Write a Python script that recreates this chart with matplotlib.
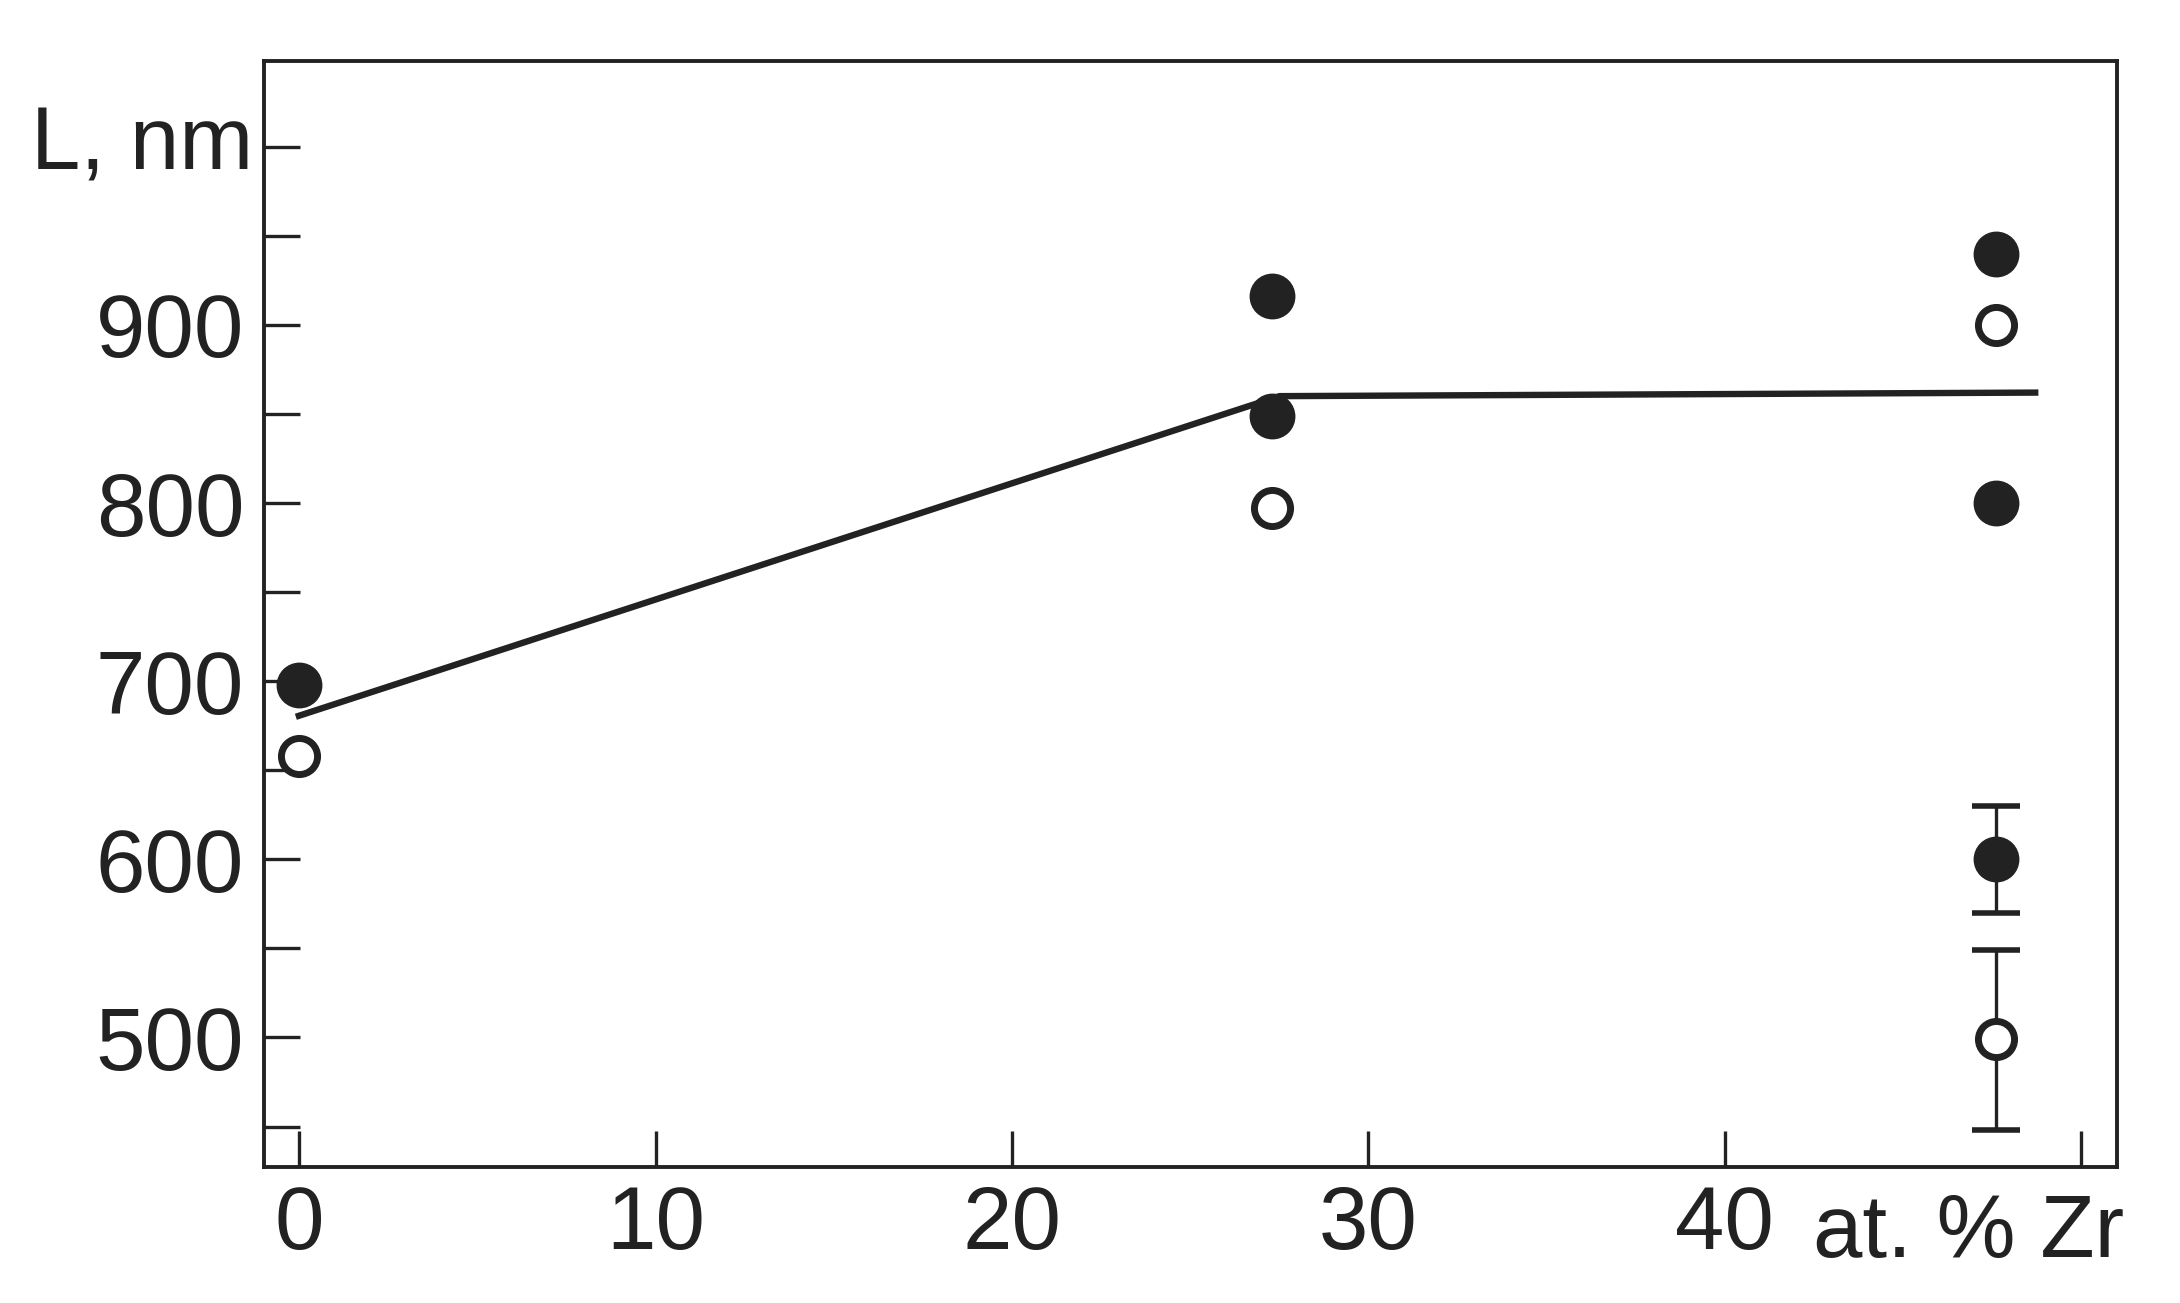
import matplotlib.pyplot as plt

# data
x_filled = [0.0, 27.3, 27.3, 47.6, 47.6, 47.6]
y_filled = [698, 916, 849, 940, 800, 600]
x_open = [0.0, 27.3, 47.6, 47.6]
y_open = [658, 797, 900, 499]

# error bars (only on the lowest pair at 47.6 at.%)
err_x = [47.6, 47.6]
err_y = [600, 499]
err_lo = [30, 51]
err_hi = [30, 50]

# trend line
line_x = [-0.1, 27.5, 48.8]
line_y = [680, 860, 862]

x_ticks = [0, 10, 20, 30, 40, 50]
x_labels = ["0", "10", "20", "30", "40", ""]
y_ticks = [500, 600, 700, 800, 900, 1000]
y_labels = ["500", "600", "700", "800", "900", ""]
y_minor = [450, 550, 650, 750, 850, 950]

plt.rcParams['font.family'] = ['Liberation Sans', 'DejaVu Sans']
ink = '#222222'
fs = 64

fig = plt.figure(figsize=(21.8, 13.03), dpi=100)
ax = fig.add_axes([0.121, 0.104, 0.850, 0.849])

ax.plot(line_x, line_y, color=ink, lw=4.6, solid_capstyle='butt', zorder=2)
ax.errorbar(err_x, err_y, yerr=[err_lo, err_hi], fmt='none', ecolor=ink,
            elinewidth=2.4, capsize=17, capthick=4, zorder=1)
ax.plot(x_filled, y_filled, 'o', ms=32, color=ink, zorder=3)
ax.plot(x_open, y_open, 'o', ms=26, mfc='white', mec=ink, mew=5, zorder=3)

ax.set_xlim(-1.0, 51.0)
ax.set_ylim(427, 1048)
ax.set_xticks(x_ticks)
ax.set_xticklabels(x_labels)
ax.set_yticks(y_ticks)
ax.set_yticklabels(y_labels)
ax.set_yticks(y_minor, minor=True)

ax.tick_params(axis='both', which='both', direction='in', length=26,
               width=2.4, color=ink, labelsize=fs, labelcolor=ink)
ax.tick_params(axis='y', pad=14)
ax.tick_params(axis='x', pad=12)

for s in ax.spines.values():
    s.set_linewidth(2.8)
    s.set_color(ink)

ax.text(-1.3, 1000, "L, nm", ha='right', va='center', fontsize=fs, color=ink)
ax.text(51.2, 427 - 14, "at. % Zr", ha='right', va='top', fontsize=fs, color=ink)

fig.savefig("out.png", dpi=100)
